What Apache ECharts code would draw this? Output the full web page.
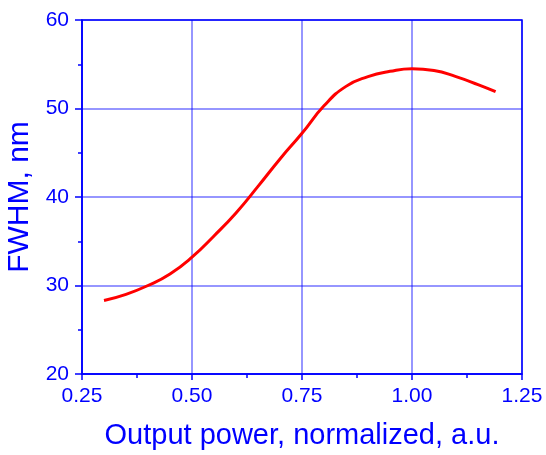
<!DOCTYPE html>
<html><head><meta charset="utf-8">
<script src="https://cdn.jsdelivr.net/npm/echarts@6/dist/echarts.min.js"></script>
<style>html,body{margin:0;padding:0;background:#fff}#c{width:546px;height:455px}</style>
</head><body><div id="c"></div>
<script>
var xValues = [0.30, 0.35, 0.40, 0.45, 0.50, 0.55, 0.60, 0.65, 0.70, 0.75, 0.80, 0.85, 0.90, 0.95, 1.00, 1.05, 1.10, 1.15, 1.19];
var fwhmValues = [28.3, 29.0, 30.0, 31.3, 33.2, 35.6, 38.2, 41.2, 44.3, 47.2, 50.3, 52.5, 53.6, 54.2, 54.5, 54.3, 53.6, 52.7, 51.9];
var xTitle = 'Output power, normalized, a.u.';
var yTitle = 'FWHM, nm';

var data = xValues.map(function(x, i){ return [x, fwhmValues[i]]; });
var blue = '#0000ff';
var font = 'Liberation Sans, Arial, sans-serif';
var chart = echarts.init(document.getElementById('c'), null, {renderer:'canvas'});
chart.setOption({
  animation: false,
  grid: {left: 82, right: 24, top: 20, bottom: 81, containLabel: false, outerBoundsMode: 'none', show: true, borderColor: blue, borderWidth: 1.5},
  xAxis: {
    type: 'value', min: 0.25, max: 1.25, interval: 0.25,
    name: xTitle, nameLocation: 'middle', nameGap: 47,
    nameTextStyle: {color: blue, fontSize: 29, fontFamily: font},
    axisLine: {show: true, onZero: false, lineStyle: {color: blue, width: 1.5}},
    axisTick: {show: true, inside: false, length: 6, lineStyle: {color: blue, width: 1.5}},
    minorTick: {show: true, splitNumber: 2, length: 4, lineStyle: {color: blue, width: 1.5}},
    axisLabel: {color: blue, fontSize: 21, fontFamily: font, margin: 12, formatter: function(v){ return v.toFixed(2); }},
    splitLine: {show: true, lineStyle: {color: 'rgba(0,0,255,0.55)', width: 1.5}}
  },
  yAxis: {
    type: 'value', min: 20, max: 60, interval: 10,
    name: yTitle, nameLocation: 'middle', nameGap: 41, nameRotate: 90,
    nameTextStyle: {color: blue, fontSize: 30, fontFamily: font},
    axisLine: {show: true, onZero: false, lineStyle: {color: blue, width: 1.5}},
    axisTick: {show: true, inside: false, length: 7, lineStyle: {color: blue, width: 1.5}},
    minorTick: {show: true, splitNumber: 2, length: 4, lineStyle: {color: blue, width: 1.5}},
    axisLabel: {color: blue, fontSize: 21, fontFamily: font, margin: 13},
    splitLine: {show: true, lineStyle: {color: 'rgba(0,0,255,0.55)', width: 1.5}}
  },
  series: [{
    type: 'line', data: data, smooth: 0.5, showSymbol: false,
    lineStyle: {color: '#ff0000', width: 3}
  }]
});
</script></body></html>
